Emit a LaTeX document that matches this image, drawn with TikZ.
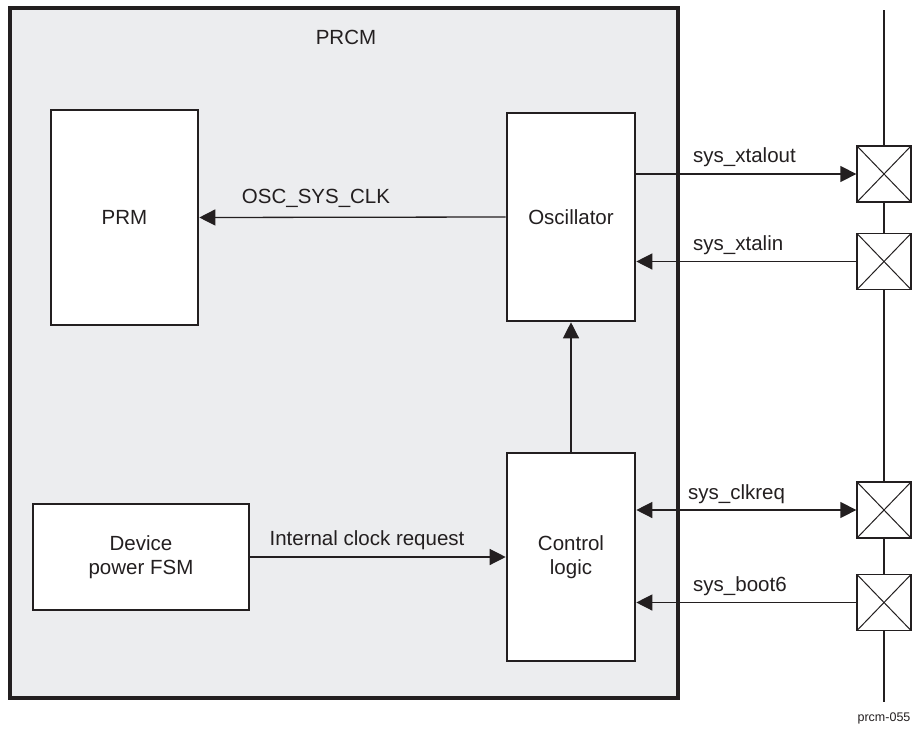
\documentclass[tikz,border=0pt]{standalone}
\usepackage{fontspec}
\setmainfont{Liberation Sans}
\usetikzlibrary{arrows.meta}
\definecolor{prcmcol}{RGB}{236,237,239}
\definecolor{inkcol} {RGB}{35,31,32}

\begin{document}
\begin{tikzpicture}[x=1pt,y=-1pt,font=\fontsize{20.5}{24}\selectfont,
  blk/.style={draw=inkcol, line width=2.6pt, fill=white, align=center, inner sep=0pt, text=inkcol},
  sig/.style={draw=inkcol, line width=1.3pt, -{Triangle[length=16pt,width=16pt]}},
  lbl/.style={anchor=base west, text=inkcol, inner sep=0pt},
  pad/.style={draw=inkcol, line width=1.3pt, fill=white, minimum width=54pt, minimum height=56pt, inner sep=0pt,
    path picture={\draw[line width=1pt, inkcol]
      (path picture bounding box.south west) -- (path picture bounding box.north east)
      (path picture bounding box.north west) -- (path picture bounding box.south east);}}]

\useasboundingbox (0,0) rectangle (912,728);

% PRCM container
\draw[draw=inkcol, line width=3.6pt, fill=prcmcol] (10,8) rectangle (678,698);
\node[text=inkcol] (prcmlbl) at (346,37) {PRCM};

% Blocks
\node[blk, minimum width=147pt, minimum height=215pt] (prm) at (124.5,217.5) {PRM};
\node[blk, minimum width=128pt, minimum height=208pt] (osc) at (571,217) {Oscillator};
\node[blk, minimum width=128pt, minimum height=208pt] (ctl) at (571,557) {Control\\logic};
\node[blk, minimum width=216pt, minimum height=106pt] (fsm) at (141,557) {Device\\power FSM};

% Pad bus
\coordinate (bustop) at (884,10);
\coordinate (busbot) at (884,702);
\draw[inkcol, line width=1.3pt] (bustop) -- (busbot);

\node[pad] (pad1) at (884,174) {};
\node[pad] (pad2) at (884,261.5) {};
\node[pad] (pad3) at (884,510) {};
\node[pad] (pad4) at (884,602.5) {};

% Internal connections
\draw[sig] (osc.west) -- (prm.east);
\draw[sig] (ctl.north) -- (osc.south);
\draw[sig] (fsm.east) -- (ctl.west);
\node[text=inkcol] (osclbl) at (316,198) {OSC\_SYS\_CLK};
\node[text=inkcol] (reqlbl) at (367,540) {Internal clock request};

% Pad connections
\draw[sig] (osc.east |- pad1) -- (pad1.west);
\draw[sig] (pad2.west) -- (osc.east |- pad2);
\draw[sig, {Triangle[length=16pt,width=16pt]}-{Triangle[length=16pt,width=16pt]}] (ctl.east |- pad3) -- (pad3.west);
\draw[sig] (pad4.west) -- (ctl.east |- pad4);

\node[lbl] (xtaloutlbl) at (693,162) {sys\_xtalout};
\node[lbl] (xtalinlbl)  at (693,250) {sys\_xtalin};
\node[lbl] (clkreqlbl)  at (688,499) {sys\_clkreq};
\node[lbl] (bootlbl)    at (693,591) {sys\_boot6};

\node[text=inkcol, font=\fontsize{12.5}{14}\selectfont] (figid) at (884,718) {prcm-055};

\end{tikzpicture}
\end{document}
